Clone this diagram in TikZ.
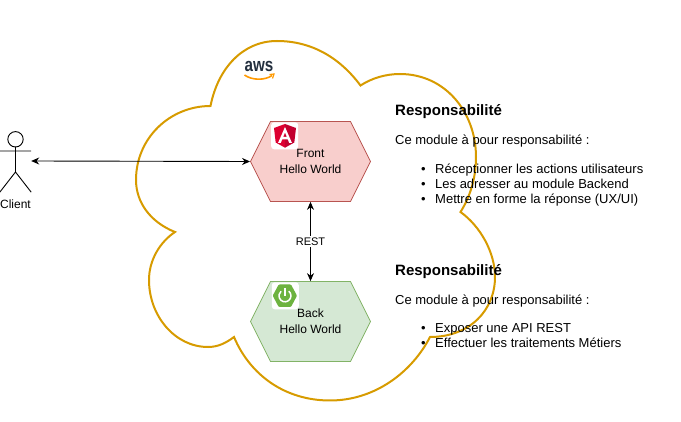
\documentclass[tikz,border=0pt]{standalone}
\usepackage{fontspec}
\setmainfont{Liberation Sans}
\usepackage{tikz}
\usetikzlibrary{positioning,shapes.symbols,arrows.meta}

\definecolor{cloudline}{HTML}{D79B00}
\definecolor{frontfill}{HTML}{F8CECC}
\definecolor{frontline}{HTML}{B85450}
\definecolor{backfill}{HTML}{D5E8D4}
\definecolor{backline}{HTML}{82B366}
\definecolor{awsdark}{HTML}{232F3E}
\definecolor{awsorange}{HTML}{FF9900}
\definecolor{ngred}{HTML}{DD0031}
\definecolor{ngdark}{HTML}{C3002F}
\definecolor{springgreen}{HTML}{6DB33F}

\tikzset{
    module/.style={signal,signal to=east and west,signal from=nowhere,signal pointer angle=126.87,
        draw,line width=0.8pt,minimum width=120pt,minimum height=80pt,inner sep=0pt,align=center,
        font=\fontsize{12}{16}\selectfont},
    link/.style={line width=0.9pt,{Stealth[length=8pt,width=7pt]}-{Stealth[length=8pt,width=7pt]}},
    title/.style={anchor=base west,inner sep=0pt,font=\fontsize{15}{18}\selectfont\bfseries},
    body/.style={anchor=base west,inner sep=0pt,font=\fontsize{13}{15}\selectfont},
    logobox/.style={fill=white,rounded corners=3pt,minimum size=27pt,inner sep=0pt}
}

\begin{document}
\begin{tikzpicture}[x=1pt,y=-1pt]
\useasboundingbox (0,0) rectangle (681,422);

% Cloud outline
\draw[cloudline,line width=2pt,line join=miter]
    (210.5,106) .. controls (218,68) and (243,41) .. (277,41)
    .. controls (312,41) and (340,58) .. (360.5,85.5)
    .. controls (372,78) and (386,74) .. (400,74)
    .. controls (445,74) and (476,112) .. (476,157)
    .. controls (476,178) and (470,197) .. (460.5,212)
    .. controls (480,226) and (495,252) .. (495,277)
    .. controls (495,310) and (470,337) .. (430,337)
    .. controls (412,372) and (375,400.5) .. (330,400.5)
    .. controls (285,400.5) and (250,375) .. (234,337)
    .. controls (226,343) and (218,347) .. (208,347)
    .. controls (175,347) and (149,316) .. (149,280)
    .. controls (149,260) and (160,242) .. (175,232)
    .. controls (150,222) and (136,202) .. (136,180)
    .. controls (136,138) and (170,106) .. cycle;

% AWS logo
\node[inner sep=0pt,xscale=0.8,text=awsdark,anchor=base,font=\fontsize{19}{19}\selectfont\bfseries] (aws) at (259,71.7) {aws};
\draw[awsorange,line width=1.6pt] (244.5,75) .. controls (252,80.5) and (265,80.5) .. (272,75.5);
\draw[awsorange,line width=1.2pt] (269.5,74.5) -- (274,74) -- (272.5,78.5);

% Modules
\node[module,fill=frontfill,draw=frontline] (front) at (310.5,161.5) {Front\\Hello World};
\node[module,fill=backfill,draw=backline] (back) at (310.5,321.5) {Back\\Hello World};

% Angular logo
\node[logobox] (ngbox) at (284.7,135.8) {};
\fill[ngred] (285,124) -- (274,128) -- (275.7,142.5) -- (285,147.7) -- cycle;
\fill[ngdark] (285,124) -- (296,128) -- (294.3,142.5) -- (285,147.7) -- cycle;
\fill[white,even odd rule] (285,127) -- (278,143) -- (280.8,143) -- (282.2,139.3) -- (287.8,139.3) -- (289.2,143) -- (292,143) -- cycle
    (285,132.5) -- (283.2,136.8) -- (286.8,136.8) -- cycle;

% Spring logo
\node[logobox] (springbox) at (285.3,295.8) {};
\fill[springgreen,rounded corners=1pt] (272.7,295.7) -- (278.7,284.5) -- (291,284.5) -- (297,295.7) -- (291,307) -- (278.7,307) -- cycle;
\draw[white,line width=1.5pt] (288.8,291.2) arc[start angle=50,end angle=-230,radius=6pt];
\draw[white,line width=1.5pt] (284.9,288) -- (284.9,296.5);

% Client
\node[minimum width=31pt,minimum height=62pt,inner sep=0pt] (actor) at (15.5,161) {};
\draw[line width=0.9pt] (15.5,139.3) circle[radius=7.7pt];
\draw[line width=0.9pt] (actor.center |- 0,147) -- (actor.center |- 0,172)
    (actor.west |- 0,151) -- (actor.east |- 0,151)
    (actor.south west) -- (actor.center |- 0,172) -- (actor.south east);
\node[anchor=base,inner sep=0pt,font=\fontsize{12}{14}\selectfont] (client) at (15.5,208.5) {Client};

% Connectors
\draw[link] (actor.east) -- (front.west);
\draw[link] (front.south) -- node[fill=white,inner sep=1.5pt,font=\fontsize{11}{13}\selectfont] (rest) {REST} (back.north);

% Text of the front module
\node[title] (title1) at (395,115.7) {Responsabilité};
\node[body] (intro1) at (395,144.5) {Ce module à pour responsabilité :};
\foreach \i/\y/\txt in {1/173.5/{Réceptionner les actions utilisateurs},2/188.5/{Les adresser au module Backend},3/203.7/{Mettre en forme la réponse (UX/UI)}} {
    \node[body] (fitem\i) at (435,\y) {\txt};
    \node[body,anchor=base] (fdot\i) at (423.3,\y) {•};
}

% Text of the back module
\node[title] (title2) at (395,275.7) {Responsabilité};
\node[body] (intro2) at (395,304.5) {Ce module à pour responsabilité :};
\foreach \i/\y/\txt in {1/333/{Exposer une API REST},2/348/{Effectuer les traitements Métiers}} {
    \node[body] (bitem\i) at (435,\y) {\txt};
    \node[body,anchor=base] (bdot\i) at (423.3,\y) {•};
}

\end{tikzpicture}
\end{document}
